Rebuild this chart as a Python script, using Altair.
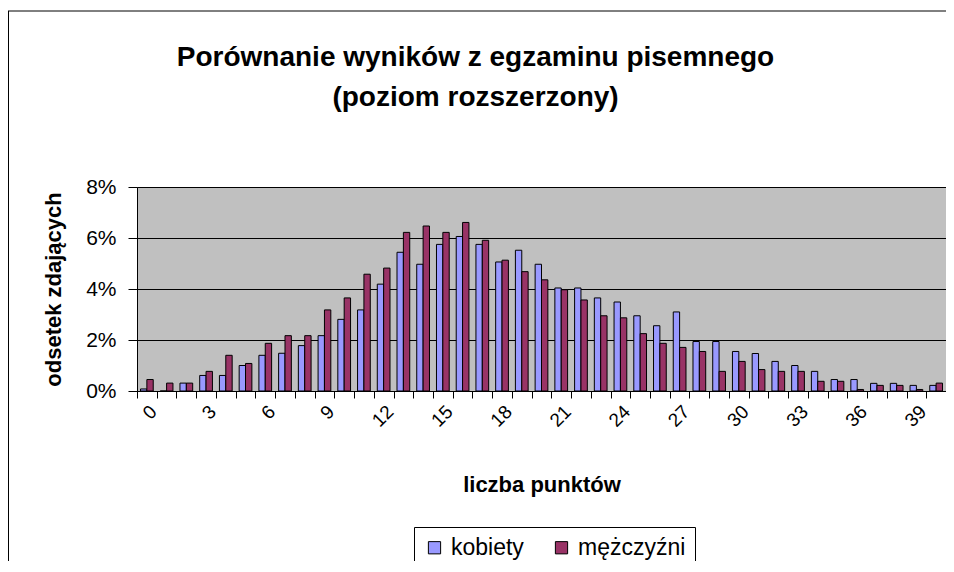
import altair as alt
import pandas as pd

points = list(range(41))
kobiety = [0.08, 0.0, 0.31, 0.61, 0.61, 1.00, 1.40, 1.48, 1.78, 2.17, 2.81, 3.18, 4.19, 5.44,
           4.97, 5.75, 6.06, 5.75, 5.06, 5.52, 4.97, 4.04, 4.04, 3.65, 3.49, 2.95, 2.56, 3.10,
           1.94, 1.94, 1.55, 1.47, 1.16, 1.00, 0.77, 0.45, 0.45, 0.30, 0.30, 0.22, 0.22]
mezczyzni = [0.45, 0.31, 0.31, 0.77, 1.40, 1.08, 1.87, 2.17, 2.17, 3.18, 3.65, 4.58, 4.82, 6.22,
             6.47, 6.22, 6.61, 5.91, 5.13, 4.68, 4.36, 3.97, 3.57, 2.95, 2.87, 2.25, 1.87, 1.71,
             1.55, 0.77, 1.16, 0.84, 0.77, 0.77, 0.38, 0.38, 0.06, 0.22, 0.22, 0.06, 0.31]
series = ["kobiety", "mężczyźni"]
colors = ["#9999FF", "#993366"]
y_ticks = [0, 0.02, 0.04, 0.06, 0.08]

rows = []
for p, k, m in zip(points, kobiety, mezczyzni):
    rows.append({"pkt": p, "grupa": series[0], "v": k / 100})
    rows.append({"pkt": p, "grupa": series[1], "v": m / 100})
df = pd.DataFrame(rows)

FONT = "Liberation Sans"
W = 809
LEFT = 129

bars = alt.Chart(df).mark_bar(stroke="black", strokeWidth=1).encode(
    x=alt.X("pkt:O", sort=points,
            scale=alt.Scale(paddingInner=0, paddingOuter=0),
            axis=alt.Axis(title="liczba punktów", labelAngle=-45,
                          labelExpr="datum.value % 3 == 0 ? datum.label : ''",
                          tickBand="extent", tickSize=7, tickColor="black",
                          domainColor="black", labelFontSize=19, labelFont=FONT,
                          labelColor="black", labelPadding=4,
                          titleFont=FONT, titleFontSize=22, titleFontWeight="bold",
                          titleColor="black", titleY=100, titleBaseline="alphabetic",
                          grid=False)),
    xOffset=alt.XOffset("grupa:N", sort=series,
                        scale=alt.Scale(paddingOuter=0.55, paddingInner=0)),
    y=alt.Y("v:Q", scale=alt.Scale(domain=[0, 0.08], nice=False),
            axis=alt.Axis(title="odsetek zdających", values=y_ticks, format=".0%",
                          tickSize=9, tickColor="black", domainColor="black",
                          labelFontSize=21, labelFont=FONT, labelColor="black",
                          labelPadding=12, grid=True, gridColor="black",
                          gridWidth=1, titleFont=FONT, titleFontSize=22,
                          titleFontWeight="bold", titleColor="black",
                          titleX=-84, titleY=102, titleAngle=-90,
                          titleAlign="center", titleBaseline="middle")),
    color=alt.Color("grupa:N", sort=series,
                    scale=alt.Scale(domain=series, range=colors),
                    legend=alt.Legend(title=None, orient="none", direction="horizontal",
                                      legendX=277, legendY=340, fillColor="white",
                                      strokeColor="black", padding=9,
                                      symbolType="square", symbolSize=150,
                                      symbolStrokeColor="black", symbolStrokeWidth=1,
                                      labelFontSize=23, labelFont=FONT,
                                      labelColor="black", columnPadding=26,
                                      labelOffset=5)),
)

frame_data = alt.Data(values=[{"a": 1}])
frame_left = alt.Chart(frame_data).mark_rule(color="black", strokeWidth=1).encode(
    x=alt.value(-LEFT + 0.5), y=alt.value(-176), y2=alt.value(400))
frame_top = alt.Chart(frame_data).mark_rule(color="black", strokeWidth=1).encode(
    x=alt.value(-LEFT), x2=alt.value(900), y=alt.value(-176))

chart = alt.layer(bars, frame_left, frame_top).properties(
    width=W, height=204,
    autosize=alt.AutoSizeParams(type="none"),
    padding={"left": LEFT, "top": 179, "right": 0, "bottom": 170},
    background="white",
    title=alt.TitleParams(text=["Porównanie wyników z egzaminu pisemnego",
                                "(poziom rozszerzony)"],
                          anchor="middle", frame="group", font=FONT, fontSize=28,
                          fontWeight="bold", color="black", lineHeight=40,
                          offset=-101, dx=-66),
).configure_view(fill="#C0C0C0", stroke="#808080", strokeWidth=1)

chart.save("out.html", embed_options={"renderer": "svg", "actions": False})
